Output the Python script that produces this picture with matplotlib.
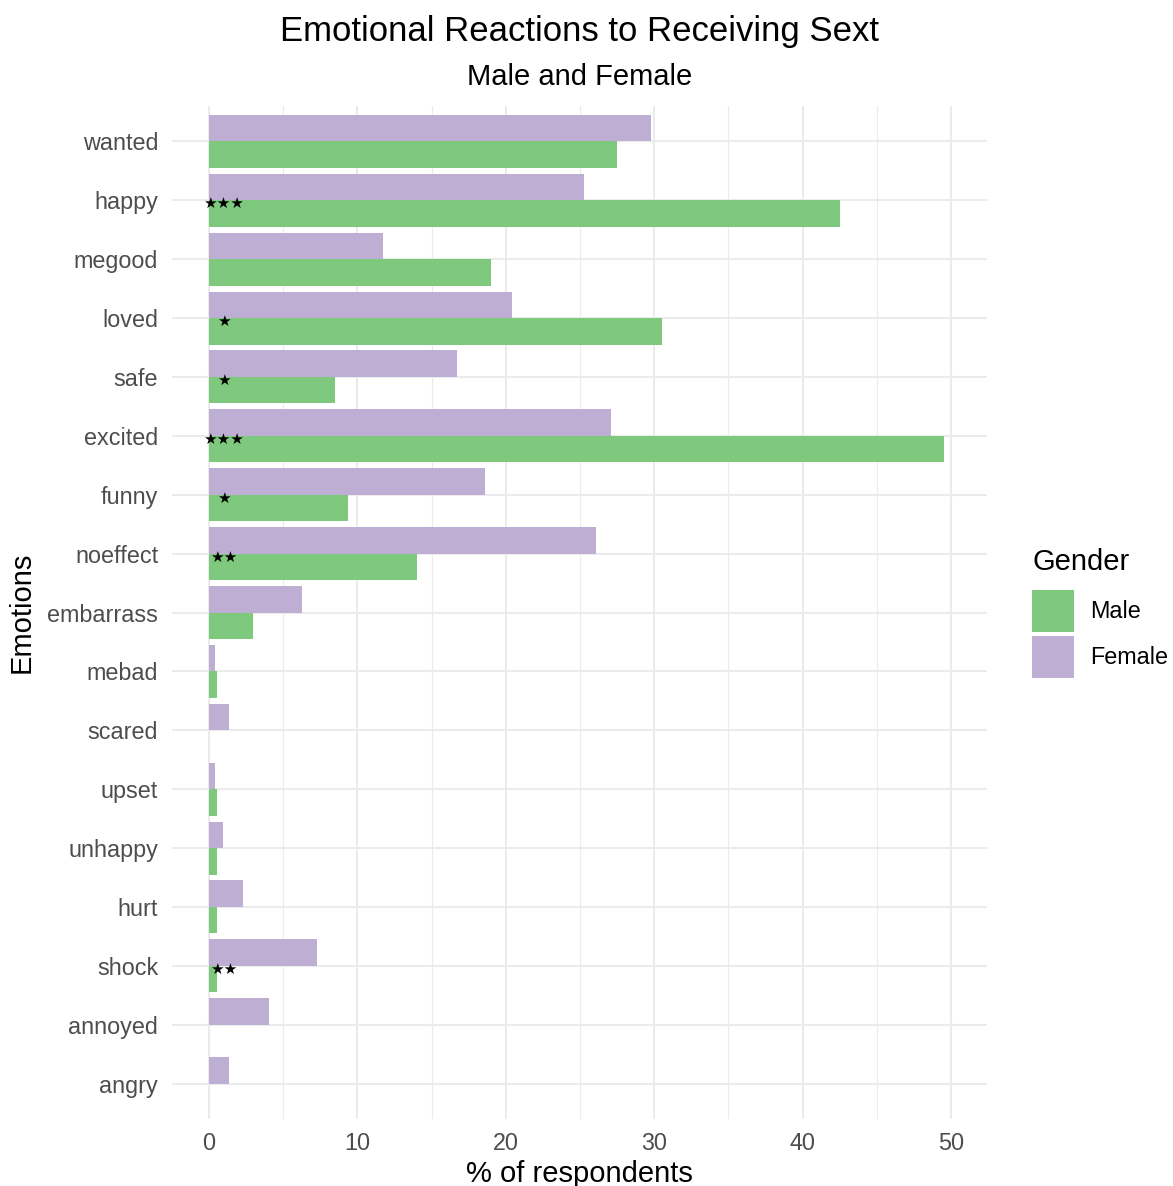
"""Emotional reactions to receiving a sext, male vs female (dodged horizontal bars)."""

import matplotlib

matplotlib.use("Agg")
import matplotlib.pyplot as plt
import numpy as np
from matplotlib.patches import Patch
from matplotlib.ticker import MultipleLocator


emotions = [
    "wanted", "happy", "megood", "loved", "safe", "excited", "funny",
    "noeffect", "embarrass", "mebad", "scared", "upset", "unhappy", "hurt",
    "shock", "annoyed", "angry",
]
male_pct = [27.5, 42.5, 19.0, 30.5, 8.5, 49.5, 9.4, 14.0, 3.0, 0.55, 0.0,
            0.55, 0.55, 0.55, 0.55, 0.0, 0.0]
female_pct = [29.8, 25.3, 11.7, 20.4, 16.7, 27.1, 18.6, 26.1, 6.3, 0.4, 1.37,
              0.4, 0.96, 2.3, 7.3, 4.05, 1.37]
signif = ["", "***", "", "*", "*", "***", "*", "**", "", "", "", "", "", "",
          "**", "", ""]

MALE_COLOR = "#7FC97F"
FEMALE_COLOR = "#BEAED4"
GRID_COLOR = "#EBEBEB"

plt.rcParams["font.family"] = ["Liberation Sans", "DejaVu Sans"]

W, H = 1173, 1186
fig = plt.figure(figsize=(W / 100, H / 100), dpi=100)
ax = fig.add_axes([172 / W, (H - 1119) / H, (987 - 172) / W, (1119 - 106) / H])

# ggplot-style: first category at the top
y = np.arange(len(emotions), 0, -1)
bar_h = 0.45

ax.barh(y - bar_h / 2, male_pct, height=bar_h, color=MALE_COLOR, label="Male", zorder=2)
ax.barh(y + bar_h / 2, female_pct, height=bar_h, color=FEMALE_COLOR, label="Female", zorder=2)

for yi, stars in zip(y, signif):
    if stars:
        ax.text(0.97, yi - 0.06, stars.replace("*", "\u2605"), ha="center", va="center",
                fontsize=11, family="DejaVu Sans", color="black", zorder=3)

ax.set_xlim(-2.49, 52.43)
ax.set_ylim(0.4, len(emotions) + 0.6)
ax.set_yticks(y)
ax.set_yticklabels(emotions)
ax.xaxis.set_major_locator(MultipleLocator(10))
ax.xaxis.set_minor_locator(MultipleLocator(5))

ax.grid(which="major", axis="both", color=GRID_COLOR, linewidth=1.5, zorder=0)
ax.grid(which="minor", axis="x", color=GRID_COLOR, linewidth=0.8, zorder=0)
ax.set_axisbelow(True)
for spine in ax.spines.values():
    spine.set_visible(False)
ax.tick_params(axis="both", which="both", length=0, labelsize=16.8, labelcolor="#4D4D4D")
ax.tick_params(axis="y", pad=10)
ax.tick_params(axis="x", pad=9)

ax.set_xlabel("% of respondents", fontsize=21, labelpad=4)
ax.set_ylabel("Emotions", fontsize=21, labelpad=8)

cx = (172 + 987) / 2 / W
fig.text(cx, 1 - 41 / H, "Emotional Reactions to Receiving Sext", ha="center",
         va="baseline", fontsize=25)
fig.text(cx, 1 - 85 / H, "Male and Female", ha="center", va="baseline", fontsize=21)

handles = [Patch(facecolor=MALE_COLOR, label="Male"),
           Patch(facecolor=FEMALE_COLOR, label="Female")]
leg = fig.legend(handles=handles, title="Gender", loc="upper left",
                 bbox_to_anchor=(1032 / W, 1 - 548 / H), frameon=False,
                 fontsize=16.8, title_fontsize=21, handlelength=1.8,
                 handleheight=2.39, handletextpad=0.7, labelspacing=0.17,
                 borderpad=0, borderaxespad=0, alignment="left")
# more room between the legend title and the keys, like ggplot
leg._legend_box.sep = 10

fig.savefig("out.png", dpi=100, facecolor="white")
